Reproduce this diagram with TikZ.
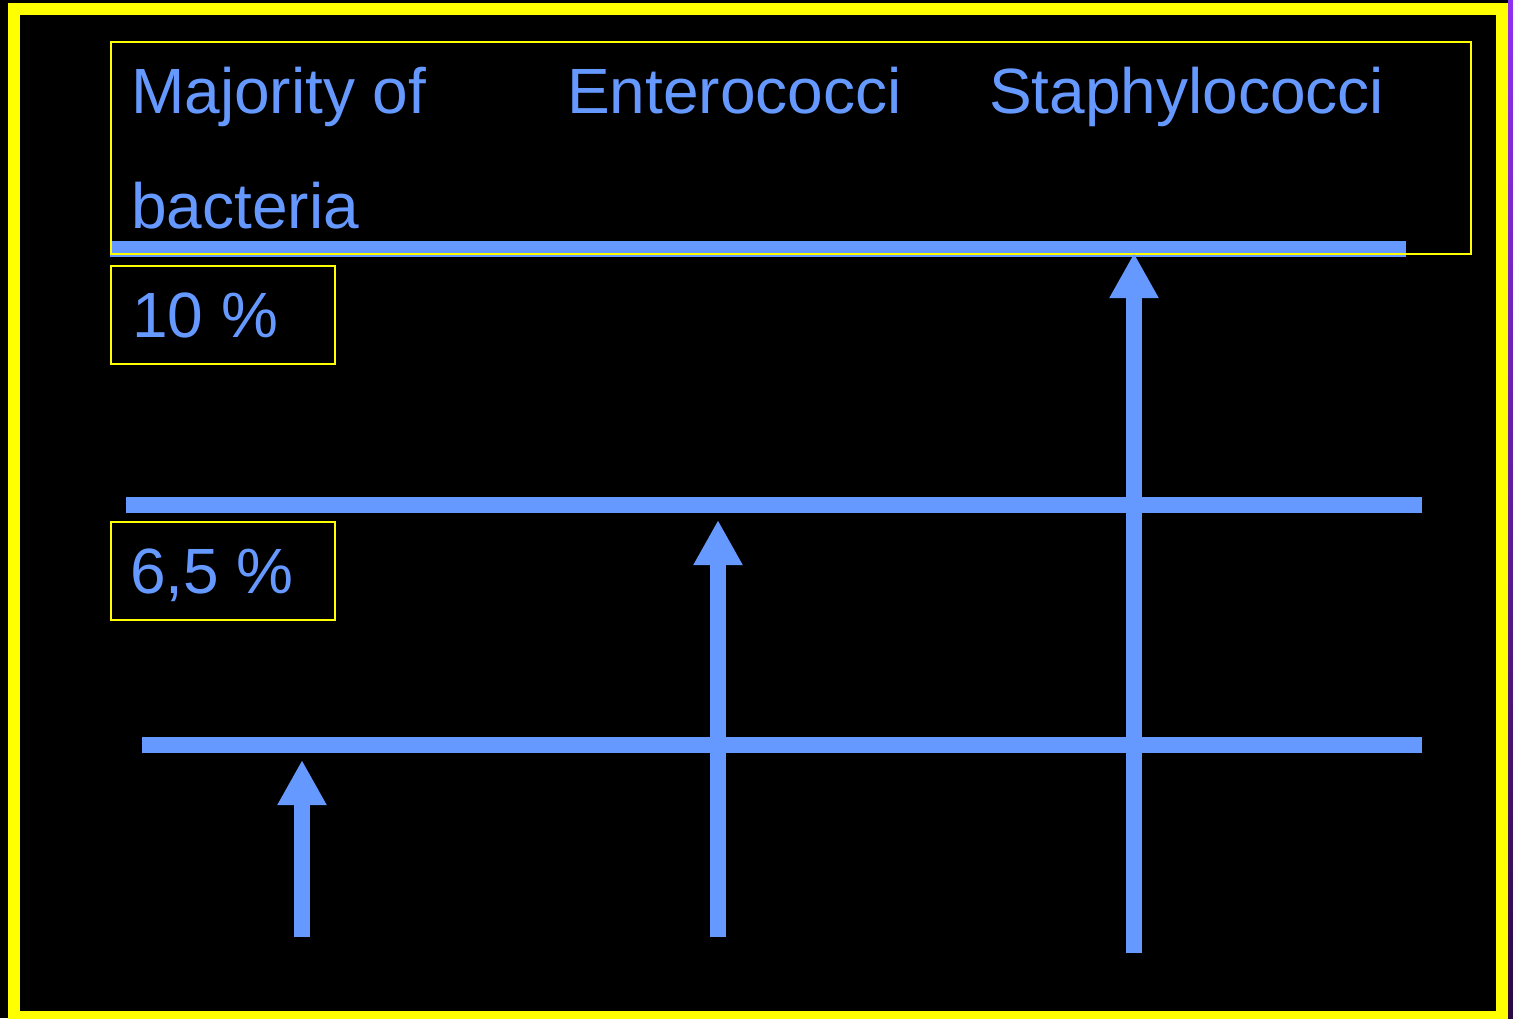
\documentclass[tikz,border=0pt]{standalone}
\usepackage{fontspec}
\setmainfont{Liberation Sans}
\usetikzlibrary{arrows.meta}
\definecolor{lblue}{HTML}{6699FF}
\definecolor{fyellow}{HTML}{FFFF00}
\definecolor{vpurple}{HTML}{9030F0}
\definecolor{dpurple}{HTML}{2A0A40}
\tikzset{
  lbl/.style={anchor=base west, inner sep=0pt, text=lblue, font=\fontsize{64}{64}\selectfont},
  ybox/.style={draw=fyellow, line width=2pt},
  level/.style={draw=lblue, line width=16pt, line cap=butt},
  uparrow/.style={draw=lblue, line width=16pt, line cap=butt, -{Triangle[length=45pt,width=46pt]}}
}
\begin{document}
\begin{tikzpicture}[x=1pt,y=-1pt]
\useasboundingbox (0,0) rectangle (1513,1018);
\fill[black] (0,0) rectangle (1513,1018);
\shade[top color=vpurple, bottom color=dpurple] (1508,0) rectangle (1513,1018);
\draw[fyellow, line width=12pt] (14,9) rectangle (1502,1017);
% top level line
\draw[level] (110,249) -- (1406,249);
% header box
\node[ybox, minimum width=1360pt, minimum height=212pt, anchor=north west, inner sep=0pt] (header) at (110,41) {};
\node[lbl] (maj) at (131,113) {Majority of};
\node[lbl] (bac) at (131,228) {bacteria};
\node[lbl] (ent) at (567,113) {Enterococci};
\node[lbl] (sta) at (989,113) {Staphylococci};
% percentage boxes
\node[ybox, minimum width=224pt, minimum height=98pt, anchor=north west, inner sep=0pt] (b10) at (110,265) {};
\node[lbl] (t10) at (132,337) {10 \%};
\node[ybox, minimum width=224pt, minimum height=98pt, anchor=north west, inner sep=0pt] (b65) at (110,521) {};
\node[lbl] (t65) at (130,593) {6,5 \%};
% level lines
\draw[level] (126,505) -- (1422,505);
\draw[level] (142,745) -- (1422,745);
% arrows
\coordinate (a1s) at (302,937);
\coordinate (a1e) at (302,760);
\coordinate (a2s) at (718,937);
\coordinate (a2e) at (718,520);
\coordinate (a3s) at (1134,953);
\coordinate (a3e) at (1134,253);
\draw[uparrow] (a1s) -- (a1e);
\draw[uparrow] (a2s) -- (a2e);
\draw[uparrow] (a3s) -- (a3e);
\end{tikzpicture}
\end{document}
